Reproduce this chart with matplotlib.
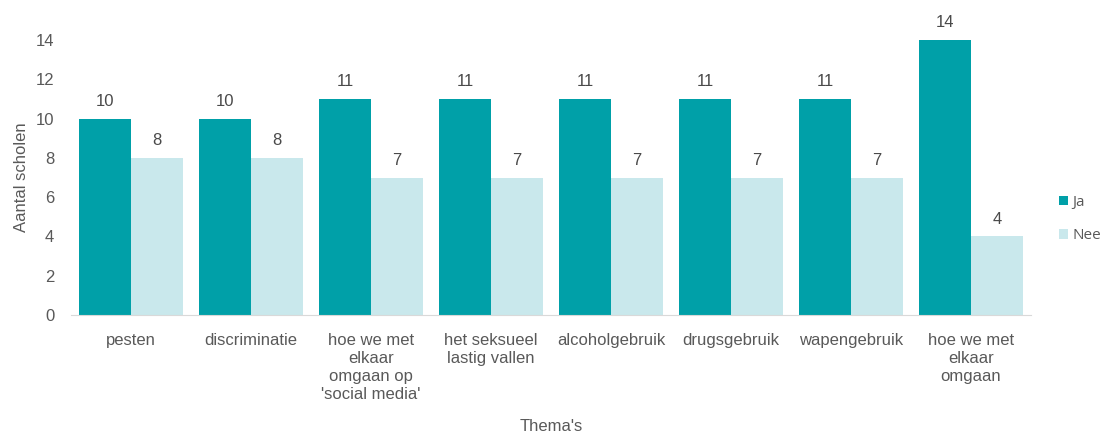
import matplotlib
matplotlib.use("Agg")
import matplotlib.pyplot as plt
import numpy as np

categories = ["pesten", "discriminatie", "hoe we met\nelkaar\nomgaan op\n'social media'",
              "het seksueel\nlastig vallen", "alcoholgebruik", "drugsgebruik",
              "wapengebruik", "hoe we met\nelkaar\nomgaan"]
ja = [10, 10, 11, 11, 11, 11, 11, 14]
nee = [8, 8, 7, 7, 7, 7, 7, 4]
yticks = [0, 2, 4, 6, 8, 10, 12, 14]

plt.rcParams['font.family'] = ['Liberation Sans', 'DejaVu Sans']
txt = '#595959'
c_ja = '#00a0a8'
c_nee = '#c9e8ec'

fig = plt.figure(figsize=(11.06, 4.32), dpi=100)
ax = fig.add_axes([0.0642, 0.2708, 0.868, 0.6366])

x = np.arange(len(categories))
w = 0.4333
b1 = ax.bar(x - w/2, ja, w, color=c_ja, label='Ja')
b2 = ax.bar(x + w/2, nee, w, color=c_nee, label='Nee')

for bars, vals in ((b1, ja), (b2, nee)):
    for r, v in zip(bars, vals):
        ax.annotate(str(v), (r.get_x() + r.get_width()/2, v), xytext=(0, 7),
                    textcoords='offset points', ha='center', va='bottom',
                    fontsize=12, color='#4a4a4a')

ax.set_xlim(-0.5, len(categories) - 0.5)
ax.set_ylim(0, 14)
ax.set_yticks(yticks)
ax.set_xticks(x)
ax.set_xticklabels(categories, fontsize=12, color=txt, linespacing=1.25)
ax.tick_params(axis='y', labelsize=12, labelcolor=txt, length=0, pad=12)
ax.tick_params(axis='x', length=0, pad=13)
for s in ['top', 'right', 'left']:
    ax.spines[s].set_visible(False)
ax.spines['bottom'].set_color('#d9d9d9')
ax.set_ylabel('Aantal scholen', fontsize=12, color=txt, labelpad=5)
ax.set_xlabel("Thema's", fontsize=12, color=txt, labelpad=12)

leg = fig.legend(handles=[b1, b2], loc='center left', bbox_to_anchor=(0.945, 0.493),
                 frameon=False, handlelength=0.6, handleheight=0.6,
                 handletextpad=0.3, labelspacing=1.2, labelcolor=txt,
                 prop={'family': 'Open Sans', 'size': 11})

fig.savefig('out.png', dpi=100)
